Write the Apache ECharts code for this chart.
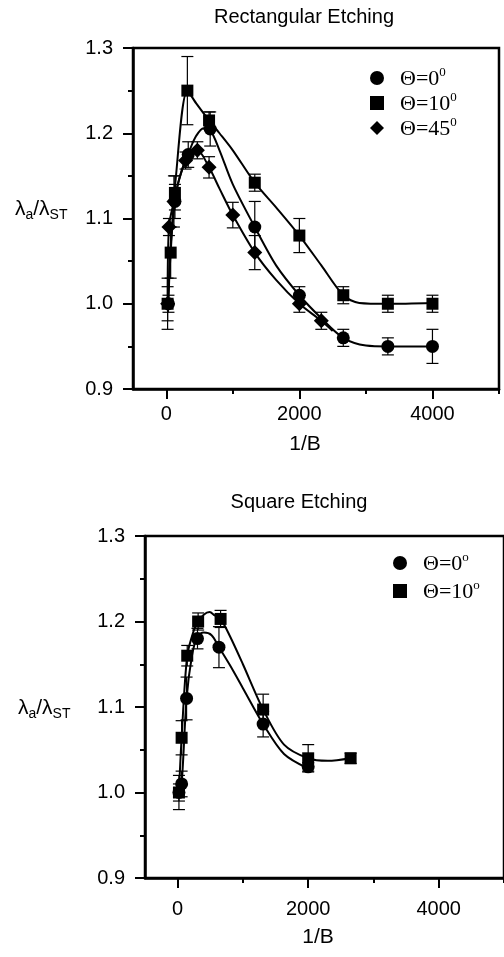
<!DOCTYPE html>
<html>
<head>
<meta charset="utf-8">
<script src="https://cdn.jsdelivr.net/npm/echarts@6/dist/echarts.min.js"></script>
<style>html,body{margin:0;padding:0;background:#fff}#c{width:504px;height:957px}</style>
</head>
<body>
<div id="c"></div>
<script>
// ---------- Rectangular Etching (top) ----------
var r0X   = [33, 130, 330, 660, 1330, 2000, 2660, 3330, 4000];
var r0Y   = [1.00, 1.12, 1.175, 1.205, 1.09, 1.01, 0.96, 0.95, 0.95];
var r0Err = [0.01, 0.02, 0.015, 0.02, 0.03, 0.01, 0.01, 0.01, 0.02];

var r10X   = [20, 66, 130, 317, 643, 1330, 2000, 2660, 3330, 4000];
var r10Y   = [1.00, 1.06, 1.13, 1.25, 1.215, 1.142, 1.08, 1.01, 1.00, 1.00];
var r10Err = [0.03, 0.03, 0.02, 0.04, 0.01, 0.01, 0.02, 0.01, 0.01, 0.01];

var r45X   = [20, 40, 115, 290, 467, 643, 1000, 1330, 2000, 2330];
var r45Y   = [1.00, 1.09, 1.12, 1.168, 1.18, 1.16, 1.104, 1.06, 1.00, 0.98];
var r45Err = [0.02, 0.01, 0.03, 0.01, 0.01, 0.0125, 0.015, 0.02, 0.01, 0.01];

// fitted curves
var r0CurveX = [33, 60, 100, 160, 250, 350, 450, 560, 660, 800, 1000, 1330, 1650, 2000, 2330, 2660, 3000, 3330, 4000];
var r0CurveY = [1.00, 1.06, 1.10, 1.135, 1.16, 1.18, 1.197, 1.206, 1.204, 1.18, 1.14, 1.09, 1.045, 1.01, 0.983, 0.96, 0.951, 0.95, 0.95];
var r10CurveX = [20, 66, 140, 317, 450, 643, 800, 1000, 1330, 1650, 2000, 2330, 2660, 2900, 3330, 4000];
var r10CurveY = [1.00, 1.06, 1.145, 1.25, 1.235, 1.215, 1.20, 1.18, 1.142, 1.113, 1.08, 1.045, 1.01, 1.001, 1.00, 1.001];
var r45CurveX = [20, 40, 115, 200, 290, 380, 467, 643, 800, 1000, 1330, 1650, 2000, 2330, 2500];
var r45CurveY = [1.00, 1.09, 1.12, 1.148, 1.168, 1.178, 1.18, 1.16, 1.135, 1.104, 1.06, 1.028, 1.00, 0.98, 0.968];

// ---------- Square Etching (bottom) ----------
var s0X   = [20, 61, 137, 304, 633, 1310, 2000];
var s0Y   = [1.00, 1.01, 1.11, 1.18, 1.17, 1.08, 1.03];
var s0Err = [0.01, 0.015, 0.025, 0.012, 0.024, 0.015, 0.005];

var s10X   = [20, 61, 147, 314, 658, 1310, 2000, 2650];
var s10Y   = [1.00, 1.064, 1.16, 1.20, 1.203, 1.097, 1.04, 1.04];
var s10Err = [0.02, 0.02, 0.012, 0.01, 0.01, 0.018, 0.016, 0.006];

var s0CurveX = [20, 61, 137, 220, 304, 400, 520, 633, 800, 1000, 1310, 1630, 2000];
var s0CurveY = [1.00, 1.01, 1.11, 1.16, 1.183, 1.187, 1.184, 1.17, 1.149, 1.122, 1.08, 1.045, 1.028];
var s10CurveX = [20, 61, 147, 250, 314, 400, 490, 570, 658, 800, 1000, 1310, 1630, 2000, 2300, 2650];
var s10CurveY = [1.00, 1.064, 1.16, 1.19, 1.20, 1.208, 1.211, 1.207, 1.203, 1.183, 1.15, 1.097, 1.056, 1.04, 1.037, 1.04];

// axis ticks / labels
var xLabelValues = [0, 2000, 4000];
var xMinorValues = [1000, 3000, 5000];
var yMin = 0.9, yMax = 1.3, yStep = 0.1;
var xMin = -500, xMax = 5000;

var SANS = 'Liberation Sans, Arial, sans-serif';
var SERIF = 'Liberation Serif, Times New Roman, serif';

function zip(xs, ys) { return xs.map(function (x, i) { return [x, ys[i]]; }); }
function zip3(xs, ys, es) { return xs.map(function (x, i) { return [x, ys[i], es[i]]; }); }

function errSeries(xs, ys, es, ax) {
  return {
    type: 'custom', xAxisIndex: ax * 2, yAxisIndex: ax, silent: true, z: 3,
    encode: { x: 0, y: 1 },
    data: zip3(xs, ys, es),
    renderItem: function (params, api) {
      var x = api.value(0), y = api.value(1), e = api.value(2);
      var a = api.coord([x, y + e]), b = api.coord([x, y - e]);
      var hw = 6, st = { stroke: '#000', lineWidth: 1.2 };
      return { type: 'group', children: [
        { type: 'line', shape: { x1: a[0], y1: a[1], x2: b[0], y2: b[1] }, style: st },
        { type: 'line', shape: { x1: a[0] - hw, y1: a[1], x2: a[0] + hw, y2: a[1] }, style: st },
        { type: 'line', shape: { x1: b[0] - hw, y1: b[1], x2: b[0] + hw, y2: b[1] }, style: st }
      ]};
    }
  };
}
function curveSeries(xs, ys, ax) {
  return { type: 'line', xAxisIndex: ax * 2, yAxisIndex: ax, data: zip(xs, ys), smooth: 0.3,
    symbol: 'none', silent: true, z: 2, lineStyle: { color: '#000', width: 2 } };
}
function markSeries(name, xs, ys, sym, size, ax) {
  return { name: name, type: 'scatter', xAxisIndex: ax * 2, yAxisIndex: ax, data: zip(xs, ys),
    symbol: sym, symbolSize: size, z: 4, itemStyle: { color: '#000', opacity: 1 } };
}

function xAxes(gi) {
  return [
    { type: 'value', gridIndex: gi, min: xMin, max: xMax, position: 'bottom',
      axisLine: { show: true, onZero: false, lineStyle: { color: '#000', width: 2.5 } },
      axisTick: { show: true, length: 10, customValues: xLabelValues, lineStyle: { color: '#000', width: 2 } },
      axisLabel: { show: true, customValues: xLabelValues, margin: gi === 0 ? 15 : 21, color: '#000', fontFamily: SANS, fontSize: 20,
        formatter: function (v) { return String(v); } },
      splitLine: { show: false } },
    { type: 'value', gridIndex: gi, min: xMin, max: xMax, position: 'bottom',
      axisLine: { show: false, onZero: false },
      axisTick: { show: true, length: 5, customValues: xMinorValues, lineStyle: { color: '#000', width: 2 } },
      axisLabel: { show: false }, splitLine: { show: false } }
  ];
}
function yAxis(gi) {
  return { type: 'value', gridIndex: gi, min: yMin, max: yMax, interval: yStep,
    axisLine: { show: true, onZero: false, lineStyle: { color: '#000', width: 2.5 } },
    axisTick: { show: true, length: 10, lineStyle: { color: '#000', width: 2 } },
    minorTick: { show: true, splitNumber: 2, length: 5, lineStyle: { color: '#000', width: 2 } },
    axisLabel: { margin: 20, color: '#000', fontFamily: SANS, fontSize: 20,
      formatter: function (v) { return v.toFixed(1); } },
    splitLine: { show: false } };
}

var legendNames = {
  r0: '{t|\u0398=0}{sup|0}', r10: '{t|\u0398=10}{sup|0}', r45: '{t|\u0398=45}{sup|0}',
  s0: '{t|\u0398=0}{sup|o}', s10: '{t|\u0398=10}{sup|o}'
};
var legendRich = {
  t: { fontFamily: SERIF, fontSize: 22, color: '#000', padding: [0, 0, 0, 11], lineHeight: 24, verticalAlign: 'bottom' },
  sup: { fontFamily: SERIF, fontSize: 13, color: '#000', lineHeight: 24, verticalAlign: 'top' }
};

var chart = echarts.init(document.getElementById('c'), null, { renderer: 'canvas' });
chart.setOption({
  animation: false,
  backgroundColor: '#fff',
  title: [
    { text: 'Rectangular Etching', left: 299, top: 2, textAlign: 'center',
      textStyle: { fontFamily: SANS, fontSize: 20, fontWeight: 'normal', color: '#000' } },
    { text: 'Square Etching', left: 294, top: 487, textAlign: 'center',
      textStyle: { fontFamily: SANS, fontSize: 20, fontWeight: 'normal', color: '#000' } }
  ],
  grid: [
    { left: 133, top: 48, width: 366, height: 341, show: true, borderColor: '#000', borderWidth: 2.5, backgroundColor: 'transparent' },
    { left: 145, top: 536, width: 364, height: 342, show: true, borderColor: '#000', borderWidth: 2.5, backgroundColor: 'transparent' }
  ],
  xAxis: xAxes(0).concat(xAxes(1)),
  yAxis: [yAxis(0), yAxis(1)],
  legend: [
    { orient: 'vertical', left: 365, top: 61, itemWidth: 14, itemHeight: 14, itemGap: 1, selectedMode: false,
      data: [{ name: 'r0', icon: 'circle' }, { name: 'r10', icon: 'rect' }, { name: 'r45', icon: 'diamond' }],
      formatter: function (n) { return legendNames[n]; }, textStyle: { rich: legendRich } },
    { orient: 'vertical', left: 388, top: 546, itemWidth: 14, itemHeight: 14, itemGap: 4, selectedMode: false,
      data: [{ name: 's0', icon: 'circle' }, { name: 's10', icon: 'rect' }],
      formatter: function (n) { return legendNames[n]; }, textStyle: { rich: legendRich } }
  ],
  graphic: [
    { type: 'text', left: 15, top: 199, style: { rich: {
        m: { fontFamily: SANS, fontSize: 21, color: '#000', lineHeight: 26, verticalAlign: 'middle' },
        s: { fontFamily: SANS, fontSize: 14, color: '#000', lineHeight: 26, verticalAlign: 'bottom' } },
      text: '{m|\u03bb}{s|a}{m|/\u03bb}{s|ST}' } },
    { type: 'text', left: 18, top: 698, style: { rich: {
        m: { fontFamily: SANS, fontSize: 21, color: '#000', lineHeight: 26, verticalAlign: 'middle' },
        s: { fontFamily: SANS, fontSize: 14, color: '#000', lineHeight: 26, verticalAlign: 'bottom' } },
      text: '{m|\u03bb}{s|a}{m|/\u03bb}{s|ST}' } },
    { type: 'text', x: 305, y: 444, style: { text: '1/B', fontFamily: SANS, fontSize: 21, fill: '#000', align: 'center', verticalAlign: 'middle' } },
    { type: 'text', x: 318, y: 937, style: { text: '1/B', fontFamily: SANS, fontSize: 21, fill: '#000', align: 'center', verticalAlign: 'middle' } }
  ],
  series: [
    curveSeries(r0CurveX, r0CurveY, 0),
    curveSeries(r10CurveX, r10CurveY, 0),
    curveSeries(r45CurveX, r45CurveY, 0),
    errSeries(r0X, r0Y, r0Err, 0),
    errSeries(r10X, r10Y, r10Err, 0),
    errSeries(r45X, r45Y, r45Err, 0),
    markSeries('r0', r0X, r0Y, 'circle', 13, 0),
    markSeries('r10', r10X, r10Y, 'rect', 12, 0),
    markSeries('r45', r45X, r45Y, 'diamond', 15, 0),

    curveSeries(s0CurveX, s0CurveY, 1),
    curveSeries(s10CurveX, s10CurveY, 1),
    errSeries(s0X, s0Y, s0Err, 1),
    errSeries(s10X, s10Y, s10Err, 1),
    markSeries('s0', s0X, s0Y, 'circle', 13, 1),
    markSeries('s10', s10X, s10Y, 'rect', 12, 1)
  ]
});
</script>
</body>
</html>
